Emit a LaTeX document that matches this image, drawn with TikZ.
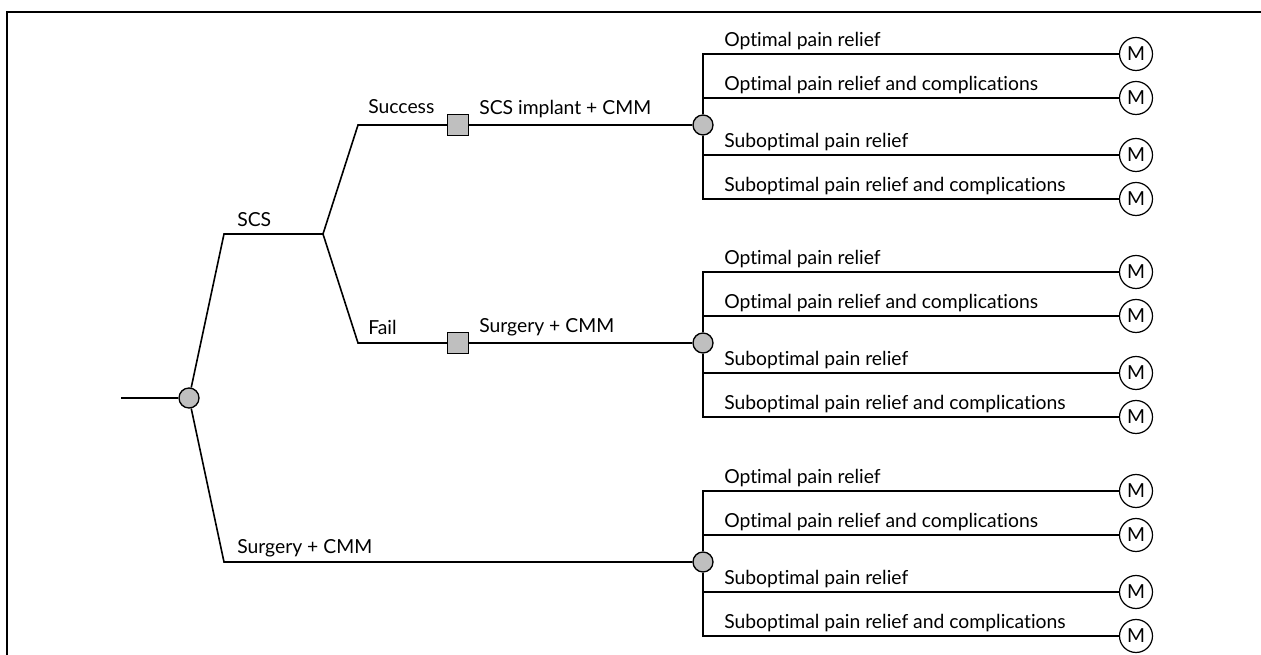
\documentclass[tikz,border=0pt]{standalone}
\usepackage{fontspec}
\setmainfont{Lato}[Ligatures=NoCommon]
\usepackage{tikz}

\tikzset{
  branch/.style={line width=1.2pt},
  chance/.style={circle, draw, line width=1pt, fill=gray!50, minimum size=15pt, inner sep=0pt},
  decision/.style={rectangle, draw, line width=1pt, fill=gray!50, minimum size=15.75pt, inner sep=0pt},
  markov/.style={circle, draw, line width=0.9pt, fill=white, minimum size=24.75pt, inner sep=0pt, font=\fontsize{14.5}{16}\selectfont},
  lbl/.style={anchor=base west, inner sep=0pt, font=\fontsize{14.5}{16}\selectfont}
}

\begin{document}
\begin{tikzpicture}[x=0.75pt,y=0.75pt,yscale=-1,xscale=1]
\useasboundingbox (0,0) rectangle (1261,655);

%Shape: Frame
\draw [line width=1pt] (7,660) -- (7,12) -- (1265,12);

% Nodes of the tree
\coordinate (start) at (121,398);
\node [chance] (root) at (189,398) {};
\coordinate (scsA) at (224,234);
\coordinate (scsB) at (323,234);
\coordinate (sucA) at (358,125);
\coordinate (failA) at (358,343);
\coordinate (surA) at (224,562);
\node [decision] (dSuc) at (458,125) {};
\node [decision] (dFail) at (458,343) {};
\node [chance] (cSuc) at (703,125) {};
\node [chance] (cFail) at (703,343) {};
\node [chance] (cSur) at (703,562) {};

% Branches
\draw [branch] (start) -- (root);
\draw [branch] (root) -- (scsA) -- (scsB) -- (sucA) -- (dSuc);
\draw [branch] (scsB) -- (failA) -- (dFail);
\draw [branch] (root) -- (surA) -- (cSur);
\draw [branch] (dSuc) -- (cSuc);
\draw [branch] (dFail) -- (cFail);

% Text Node
\node [lbl] (lScs) at (237,227) {SCS};
\node [lbl] (lSuc) at (368,114) {Success};
\node [lbl] (lFail) at (368,335) {Fail};
\node [lbl] (lSur) at (237,554) {Surgery + CMM};
\node [lbl] (lImp) at (479,115) {SCS implant + CMM};
\node [lbl] (lSurF) at (479,333) {Surgery + CMM};

% Outcomes
\foreach \c/\y in {cSuc/125, cFail/343, cSur/562}{
  \foreach \dy/\txt [count=\i] in {-71/Optimal pain relief, -27/Optimal pain relief and complications, 30/Suboptimal pain relief, 74/Suboptimal pain relief and complications}{
    \node [markov] (\c m\i) at (1136,{\y+\dy}) {M};
    \draw [branch] (\c) |- (\c m\i);
    \node [lbl] (\c t\i) at (724,{\y+\dy-7}) {\txt};
  }
}

\end{tikzpicture}
\end{document}
